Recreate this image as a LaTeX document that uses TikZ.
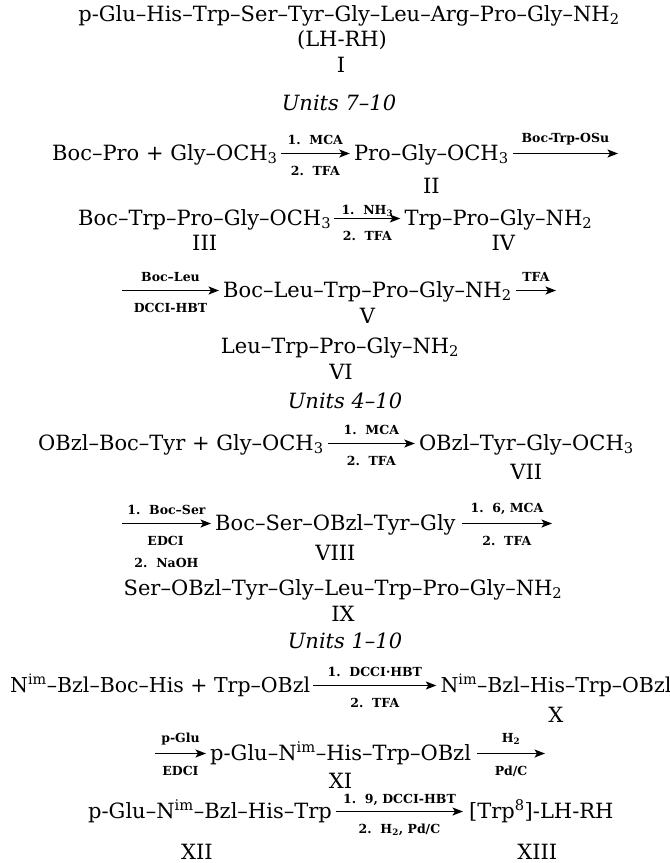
\documentclass[tikz,border=0pt]{standalone}
\usepackage{fontspec}
\setmainfont{DejaVu Serif}
\usetikzlibrary{arrows.meta}
\begin{document}
\begin{tikzpicture}[x=1pt,y=-1pt,
  txt/.style={font=\fontsize{21}{24}\selectfont, inner sep=0pt, anchor=base west},
  txtF/.style={font=\fontsize{20.5}{24}\selectfont, inner sep=0pt, anchor=base west},
  ctxt/.style={font=\fontsize{21}{24}\selectfont, inner sep=0pt, anchor=base},
  unit/.style={font=\fontsize{21}{24}\selectfont\itshape, inner sep=0pt, anchor=base},
  lab/.style={font=\fontsize{12.5}{14}\selectfont\bfseries, inner sep=0pt},
  la/.style={lab, above=8pt},
  lb/.style={lab, below=12pt},
  rx/.style={-{Stealth[length=10.5pt,width=8pt,inset=2.5pt]}, line width=1.25pt},
]
\useasboundingbox (0,0) rectangle (670,863);

% header
\node[ctxt] (lhrh) at (349,21) {p-Glu–His–Trp–Ser–Tyr–Gly–Leu–Arg–Pro–Gly–NH\textsubscript{2}};
\node[ctxt] (lhrhname) at (342,46) {(LH-RH)};
\node[ctxt] (n1) at (341,72) {I};
\node[unit] (u1) at (339,110) {Units 7–10};

% row A
\node[txt] (A1) at (52,160) {Boc–Pro + Gly–OCH\textsubscript{3}};
\node[txt] (A2) at ([xshift=76pt]A1.base east) {Pro–Gly–OCH\textsubscript{3}};
\coordinate (A3) at (618,153.5);
\draw[rx] ([xshift=3pt,yshift=6.5pt]A1.base east) -- node[la]{1.\hspace{0.7em}MCA} node[lb]{2.\hspace{0.7em}TFA} ([xshift=-4pt,yshift=6.5pt]A2.base west);
\draw[rx] ([xshift=4pt,yshift=6.5pt]A2.base east) -- node[la]{Boc-Trp-OSu} (A3);
\node[ctxt] (n2) at (A2.base |- 0,193) {II};

% row B
\node[txt] (B1) at (78,225) {Boc–Trp–Pro–Gly–OCH\textsubscript{3}};
\node[txt] (B2) at ([xshift=73pt]B1.base east) {Trp–Pro–Gly–NH\textsubscript{2}};
\draw[rx] ([xshift=3pt,yshift=6.5pt]B1.base east) -- node[lab, above=1pt]{1.\hspace{0.7em}NH\textsubscript{3}} node[lb]{2.\hspace{0.7em}TFA} ([xshift=-4pt,yshift=6.5pt]B2.base west);
\node[ctxt] (n3) at (B1.base |- 0,250) {III};
\node[ctxt, xshift=5pt] (n4) at (B2.base |- 0,250) {IV};

% row C
\coordinate (C0) at (122,290.5);
\node[txt] (C1) at (223,297) {Boc–Leu–Trp–Pro–Gly–NH\textsubscript{2}};
\coordinate (C2) at (556,290.5);
\draw[rx] (C0) -- node[la]{Boc–Leu} node[lb]{DCCI-HBT} ([xshift=-4pt,yshift=6.5pt]C1.base west);
\draw[rx] ([xshift=4pt,yshift=6.5pt]C1.base east) -- node[la]{TFA} (C2);
\node[ctxt] (n5) at (C1.base |- 0,323) {V};
\node[ctxt] (C3) at (340,353) {Leu–Trp–Pro–Gly–NH\textsubscript{2}};
\node[ctxt] (n6) at (341,379) {VI};

\node[unit] (u2) at (345,408) {Units 4–10};

% row D
\node[txt] (D1) at (38,450) {OBzl–Boc–Tyr + Gly–OCH\textsubscript{3}};
\node[txt] (D2) at ([xshift=95pt]D1.base east) {OBzl–Tyr–Gly–OCH\textsubscript{3}};
\draw[rx] ([xshift=4pt,yshift=6.5pt]D1.base east) -- node[la]{1.\hspace{0.7em}MCA} node[lb]{2.\hspace{0.7em}TFA} ([xshift=-4pt,yshift=6.5pt]D2.base west);
\node[ctxt] (n7) at (D2.base |- 0,479) {VII};

% row E
\coordinate (E0) at (122,523.5);
\node[txt] (E1) at (215,530) {Boc–Ser–OBzl–Tyr–Gly};
\coordinate (E2) at (552,523.5);
\draw[rx] (E0) -- node[la]{1.\hspace{0.7em}Boc–Ser} node[lb, align=left]{\hspace*{13pt}EDCI\\[8pt]2.\hspace{0.7em}NaOH} ([xshift=-4pt,yshift=6.5pt]E1.base west);
\draw[rx] ([xshift=6pt,yshift=6.5pt]E1.base east) -- node[la]{1.\hspace{0.7em}6, MCA} node[lb]{2.\hspace{0.7em}TFA} (E2);
\node[ctxt] (n8) at (E1.base |- 0,560) {VIII};
\node[ctxt] (E3) at (343,595) {Ser–OBzl–Tyr–Gly–Leu–Trp–Pro–Gly–NH\textsubscript{2}};
\node[ctxt] (n9) at (E3.base |- 0,621) {IX};

\node[unit] (u3) at (345,648) {Units 1–10};

% row F
\node[txtF] (F1) at (10,692) {N\textsuperscript{im}–Bzl–Boc–His + Trp–OBzl};
\node[txtF] (F2) at ([xshift=130pt]F1.base east) {N\textsuperscript{im}–Bzl–His–Trp–OBzl};
\draw[rx] ([xshift=3pt,yshift=6.5pt]F1.base east) -- node[la]{1.\hspace{0.7em}DCCI·HBT} node[lb]{2.\hspace{0.7em}TFA} ([xshift=-4pt,yshift=6.5pt]F2.base west);
\node[ctxt] (n10) at (F2.base |- 0,722) {X};

% row G
\coordinate (G0) at (155,753.5);
\node[txt] (G1) at (210,760) {p-Glu–N\textsuperscript{im}–His–Trp–OBzl};
\coordinate (G2) at (545,753.5);
\draw[rx] (G0) -- node[la]{p-Glu} node[lb]{EDCI} ([xshift=-4pt,yshift=6.5pt]G1.base west);
\draw[rx] ([xshift=6pt,yshift=6.5pt]G1.base east) -- node[la]{H\textsubscript{2}} node[lb]{Pd/C} (G2);
\node[ctxt] (n11) at (G1.base |- 0,788) {XI};

% row H
\node[txt] (H1) at (88,818) {p-Glu–N\textsuperscript{im}–Bzl–His–Trp};
\node[txt] (H2) at ([xshift=137pt]H1.base east) {[Trp\textsuperscript{8}]-LH-RH};
\draw[rx] ([xshift=4pt,yshift=6.5pt]H1.base east) -- node[lab, above=5pt]{1.\hspace{0.7em}9, DCCI-HBT} node[lb]{2.\hspace{0.7em}H\textsubscript{2}, Pd/C} ([xshift=-6pt,yshift=6.5pt]H2.base west);
\node[ctxt, xshift=-13pt] (n12) at (H1.base |- 0,859) {XII};
\node[ctxt, xshift=-4pt] (n13) at (H2.base |- 0,859) {XIII};
\end{tikzpicture}
\end{document}
